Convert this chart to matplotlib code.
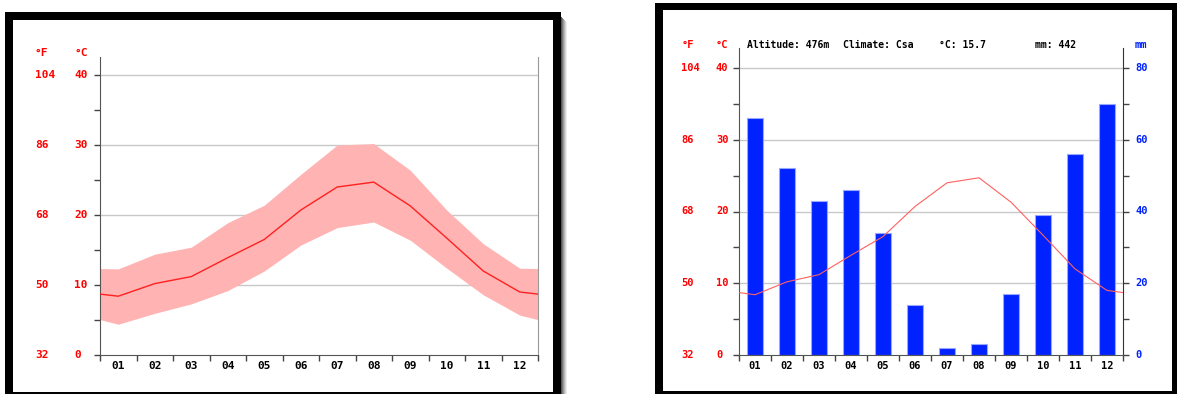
import matplotlib.pyplot as plt
import matplotlib as mpl
from matplotlib.patches import Rectangle
import numpy as np

months = ["01", "02", "03", "04", "05", "06", "07", "08", "09", "10", "11", "12"]
t_mean = [8.4, 10.2, 11.2, 13.9, 16.5, 20.7, 24.0, 24.7, 21.3, 16.7, 12.0, 9.0]
t_max = [12.3, 14.4, 15.4, 18.9, 21.4, 25.8, 30.0, 30.2, 26.4, 20.7, 15.9, 12.4]
t_min = [4.4, 5.95, 7.3, 9.2, 12.0, 15.7, 18.2, 19.0, 16.4, 12.4, 8.6, 5.7]
precip = [66, 52, 43, 46, 34, 14, 2, 3, 17, 39, 56, 70]
c_ticks = [0, 10, 20, 30, 40]
f_ticks = ["32", "50", "68", "86", "104"]
mm_ticks = [0, 20, 40, 60, 80]
header = [("Altitude: 476m", 747), ("Climate: Csa", 843), ("°C: 15.7", 939), ("mm: 442", 1035)]

W, H = 1177, 394
RED = "#ff0000"
BLUE = "#0022ff"
FONT = dict(family="DejaVu Sans Mono", weight="bold")
FS1 = 8
FS2 = 7.5

fig = plt.figure(figsize=(W / 100, H / 100), dpi=100)


def rect(x0, y0, x1, y1, color, z=-5):
    fig.patches.append(Rectangle((x0 / W, 1 - y1 / H), (x1 - x0) / W, (y1 - y0) / H,
                                 transform=fig.transFigure, facecolor=color,
                                 edgecolor="none", zorder=z))


def make_axes(x0, x1, y_top, y0, y40, grid=True):
    # y0 pixel of 0 degC, y40 pixel of 40 degC, y_top pixel of spine top
    ymax = 40 + (y40 - y_top) / ((y0 - y40) / 40)
    ax = fig.add_axes([x0 / W, 1 - y0 / H, (x1 - x0) / W, (y0 - y_top) / H])
    ax.set_xlim(0.5, 12.5)
    ax.set_ylim(0, ymax)
    ax.set_facecolor("none")
    ax.spines["top"].set_visible(False)
    for s in ["left", "bottom"]:
        ax.spines[s].set_color("#555555")
    ax.set_yticks(np.arange(0, 41, 5))
    ax.set_yticklabels([])
    ax.tick_params(axis="y", length=4, color="#444444", width=1)
    ax.set_xticks(np.arange(1, 13))
    ax.set_xticks(np.arange(0.5, 13, 1), minor=True)
    ax.tick_params(axis="x", which="major", length=0, pad=4)
    ax.tick_params(axis="x", which="minor", length=4, color="#444444", width=1)
    ax.set_axisbelow(True)
    if grid:
        for c in c_ticks[1:]:
            ax.axhline(c, color="#c8c8c8", lw=1, zorder=0)
    return ax


# frames
rect(5, 12, 561, 400, "black")
rect(13, 20, 553, 392, "white")
for i, g in enumerate(["#555555", "#7a7a7a", "#9a9a9a", "#b8b8b8", "#d4d4d4", "#ececec"]):
    rect(561 + i, 17 + i, 562 + i, 400, g)
rect(655, 3, 1185, 400, "black")
rect(663, 10, 1172, 391, "white")

x = np.arange(1, 13)
# wrap around so the curves run to the plot edges (clipped by the axes)
xw = np.arange(0, 14)
wrap = lambda v: [v[-1]] + list(v) + [v[0]]

# left panel: temperature band
ax1 = make_axes(100, 538, 57, 355, 75)
ax1.spines["right"].set_color("#999999")
ax1.fill_between(xw, wrap(t_min), wrap(t_max), color="#ffb3b3", lw=0, zorder=2)
ax1.plot(xw, wrap(t_mean), color="#ff2020", lw=1.0, zorder=3)
ax1.set_xticklabels(months, fontsize=FS1, **FONT)
tr = ax1.get_yaxis_transform()
for c, f in zip(c_ticks, f_ticks):
    ax1.text((35 - 100) / 438, c, f, transform=tr, color=RED, fontsize=FS1, va="center", ha="left", **FONT)
    ax1.text((74 - 100) / 438, c, str(c), transform=tr, color=RED, fontsize=FS1, va="center", ha="left", **FONT)
fig.text(35 / W, 1 - 53 / H, "°F", color=RED, fontsize=FS1, va="center", ha="left", **FONT)
fig.text(74 / W, 1 - 53 / H, "°C", color=RED, fontsize=FS1, va="center", ha="left", **FONT)

# right panel: climate diagram
ax2 = make_axes(739, 1123, 48, 355, 68, grid=False)
ax2.spines["right"].set_visible(False)
ax2.plot(xw, wrap(t_mean), color="#ff6060", lw=0.8, zorder=4)
ax2.set_xticklabels(months, fontsize=FS2, **FONT)
ax3 = ax2.twinx()
ax3.set_ylim(0, ax2.get_ylim()[1] * 2)
for m in mm_ticks[1:]:
    ax3.axhline(m, color="#c8c8c8", lw=1, zorder=0)
ax3.bar(x, precip, width=0.53, color=BLUE, edgecolor="#9aa6ff", lw=0.8, zorder=2)
ax3.set_zorder(ax2.get_zorder() - 1)
ax2.set_zorder(ax3.get_zorder() + 1)
ax2.patch.set_visible(False)
for s in ["top", "left", "bottom"]:
    ax3.spines[s].set_visible(False)
ax3.spines["right"].set_color("#333333")
ax3.set_yticks(np.arange(0, 81, 10))
ax3.set_yticklabels([])
ax3.tick_params(axis="y", length=4, color="#444444", width=1)
tr3 = ax3.get_yaxis_transform()
for m in mm_ticks:
    ax3.text((1135 - 739) / 384, m, str(m), transform=tr3, color=BLUE, fontsize=FS2, va="center", ha="left", **FONT)
tr2 = ax2.get_yaxis_transform()
for c, f in zip(c_ticks, f_ticks):
    ax2.text((681 - 739) / 384, c, f, transform=tr2, color=RED, fontsize=FS2, va="center", ha="left", **FONT)
    ax2.text((716 - 739) / 384, c, str(c), transform=tr2, color=RED, fontsize=FS2, va="center", ha="left", **FONT)
fig.text(682 / W, 1 - 45 / H, "°F", color=RED, fontsize=FS2, va="center", ha="left", **FONT)
fig.text(716 / W, 1 - 45 / H, "°C", color=RED, fontsize=FS2, va="center", ha="left", **FONT)
fig.text(1135 / W, 1 - 45 / H, "mm", color=BLUE, fontsize=FS2, va="center", ha="left", **FONT)
for txt, px in header:
    fig.text(px / W, 1 - 45 / H, txt, color="black", fontsize=7, va="center", ha="left", **FONT)

plt.savefig("out.png", dpi=100)
